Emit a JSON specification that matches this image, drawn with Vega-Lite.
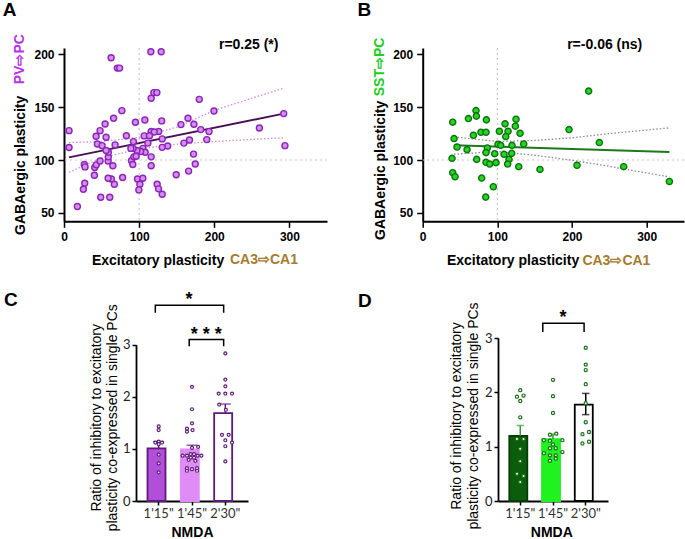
{
  "$schema": "https://vega.github.io/schema/vega-lite/v6.json",
  "padding": {"left": 2, "top": 1, "right": 0, "bottom": 0},
  "config": {
    "view": {"stroke": null},
    "font": "Liberation Sans",
    "axis": {"grid": false, "domainColor": "#000", "tickColor": "#000", "labelColor": "#000", "titleColor": "#000", "labelFont": "Liberation Sans", "titleFont": "Liberation Sans"},
    "title": {"font": "Liberation Sans", "fontSize": 19, "fontWeight": "bold", "color": "#000", "anchor": "start", "frame": "group", "baseline": "alphabetic"}
  },
  "datasets": {
    "one": [{"k": 1}],
    "pv": [
      {"x":6.7,"y":127.8},{"x":6.7,"y":111.8},{"x":17.8,"y":56},{"x":62.7,"y":196.8},{"x":71,"y":187},{"x":74,"y":187},{"x":115.6,"y":202.5},{"x":129.3,"y":202.5},{"x":116,"y":158.4},{"x":119.6,"y":163.8},{"x":123.6,"y":163.8},{"x":180,"y":157.4},{"x":199.6,"y":146.4},{"x":292.4,"y":143.9},{"x":260,"y":130.3},{"x":294,"y":113.6},{"x":77,"y":146.7},{"x":66,"y":139.5},{"x":54.7,"y":134.1},{"x":48,"y":127.8},{"x":42.7,"y":122.5},{"x":56,"y":121.5},{"x":44.4,"y":115.2},{"x":50.7,"y":113.6},{"x":68,"y":114.3},{"x":83,"y":123},{"x":95,"y":135.7},{"x":107.6,"y":137.9},{"x":130,"y":137},{"x":155.6,"y":133.5},{"x":165,"y":139.5},{"x":172.9,"y":133.8},{"x":182,"y":128.8},{"x":193,"y":126.9},{"x":190,"y":119.3},{"x":167,"y":119},{"x":159.6,"y":116},{"x":126,"y":127},{"x":116,"y":127},{"x":120,"y":126.5},{"x":106.7,"y":122.8},{"x":113.8,"y":123},{"x":130.7,"y":120},{"x":138,"y":113.3},{"x":130.7,"y":112},{"x":111.6,"y":116},{"x":105,"y":111},{"x":108,"y":107.3},{"x":102,"y":108},{"x":97,"y":109},{"x":92,"y":111},{"x":92.4,"y":117.4},{"x":89,"y":111},{"x":89.8,"y":99.4},{"x":93,"y":103},{"x":96,"y":103.5},{"x":116,"y":103},{"x":116,"y":94.6},{"x":91.6,"y":95.7},{"x":97.8,"y":82},{"x":104.9,"y":82.8},{"x":101,"y":77},{"x":99.6,"y":71.7},{"x":124,"y":77},{"x":125.8,"y":72.7},{"x":130.7,"y":67.6},{"x":78,"y":83.4},{"x":67,"y":77},{"x":63,"y":82},{"x":58.7,"y":82.8},{"x":48.9,"y":64.8},{"x":60.9,"y":64.8},{"x":40.4,"y":85.6},{"x":40.9,"y":92.9},{"x":43,"y":95.4},{"x":27,"y":95.7},{"x":28,"y":93.5},{"x":27.6,"y":78},{"x":25.8,"y":72.4},{"x":48,"y":99},{"x":58.7,"y":99},{"x":59,"y":103},{"x":59,"y":107.3},{"x":56,"y":109},{"x":65,"y":94.5},{"x":149.3,"y":86},{"x":165.8,"y":89.5},{"x":174.7,"y":96.2},{"x":172.4,"y":105.6}
    ],
    "pvfit": [
      {"b":"fit","x":6.7,"y":102.5},{"b":"fit","x":292.4,"y":143.9},
      {"b":"upper","x":6.7,"y":116.5},{"b":"upper","x":50,"y":117.5},{"b":"upper","x":100,"y":121.5},{"b":"upper","x":150,"y":131},{"b":"upper","x":200,"y":147},{"b":"upper","x":250,"y":158.5},{"b":"upper","x":292.4,"y":168},
      {"b":"lower","x":6.7,"y":88.4},{"b":"lower","x":50,"y":102},{"b":"lower","x":100,"y":110.5},{"b":"lower","x":150,"y":115},{"b":"lower","x":200,"y":117.5},{"b":"lower","x":250,"y":119.5},{"b":"lower","x":292.4,"y":121}
    ],
    "sst": [
      {"x":40.2,"y":135.8},{"x":42,"y":120.3},{"x":46,"y":112.3},{"x":39.3,"y":101.6},{"x":40.2,"y":88},{"x":43.3,"y":84.2},{"x":61.2,"y":139.2},{"x":71.4,"y":146.8},{"x":71.9,"y":141.5},{"x":67.9,"y":123.4},{"x":78,"y":126.3},{"x":84.8,"y":126.3},{"x":85.3,"y":138},{"x":59.4,"y":109.8},{"x":72.3,"y":100.6},{"x":79,"y":82.9},{"x":84.4,"y":64.9},{"x":94.6,"y":74.7},{"x":86.6,"y":111.4},{"x":84.8,"y":107},{"x":84.8,"y":97.8},{"x":89.7,"y":96.2},{"x":96.4,"y":106},{"x":98.2,"y":97.5},{"x":102.7,"y":127.2},{"x":100.9,"y":114.9},{"x":104.5,"y":113.9},{"x":110.3,"y":134.2},{"x":114.3,"y":127.2},{"x":111.2,"y":122.2},{"x":125,"y":138.6},{"x":124.1,"y":132},{"x":130.4,"y":125.3},{"x":135.3,"y":115.2},{"x":119.6,"y":113.9},{"x":108.9,"y":105.4},{"x":119.2,"y":106.3},{"x":115.6,"y":100.6},{"x":113.8,"y":96.2},{"x":128.6,"y":93.7},{"x":157.1,"y":91.1},{"x":196,"y":128.8},{"x":222.3,"y":165.2},{"x":236.6,"y":116.5},{"x":206.7,"y":95},{"x":269.2,"y":93.7},{"x":330.4,"y":79.7}
    ],
    "sstfit": [
      {"b":"fit","x":42,"y":113.9},{"b":"fit","x":330.4,"y":107.6},
      {"b":"upper","x":42,"y":121.8},{"b":"upper","x":100,"y":117.5},{"b":"upper","x":150,"y":118.5},{"b":"upper","x":200,"y":121},{"b":"upper","x":250,"y":125},{"b":"upper","x":330.4,"y":130.4},
      {"b":"lower","x":42,"y":105.5},{"b":"lower","x":100,"y":108},{"b":"lower","x":150,"y":104.5},{"b":"lower","x":200,"y":99.8},{"b":"lower","x":250,"y":94},{"b":"lower","x":330.4,"y":84}
    ],
    "cbars": [
      {"g":"1'15\"","m":1.01,"lo":1.01,"hi":1.14},
      {"g":"1'45\"","m":0.99,"lo":0.99,"hi":1.07},
      {"g":"2'30\"","m":1.685,"lo":1.685,"hi":1.86}
    ],
    "dbars": [
      {"g":"1'15\"","m":1.2,"lo":1.2,"hi":1.39},
      {"g":"1'45\"","m":1.14,"lo":1.14,"hi":1.23},
      {"g":"2'30\"","m":1.775,"lo":1.59,"hi":1.98}
    ],
    "cpts": [
      {"g":"1'15\"","v":1.43,"j":0},{"g":"1'15\"","v":1.36,"j":0},{"g":"1'15\"","v":1.12,"j":-0.3},{"g":"1'15\"","v":1.14,"j":0},{"g":"1'15\"","v":1.09,"j":0},{"g":"1'15\"","v":1.12,"j":0.3},{"g":"1'15\"","v":0.89,"j":0},{"g":"1'15\"","v":0.72,"j":0},{"g":"1'15\"","v":0.55,"j":0},
      {"g":"1'45\"","v":2.19,"j":0},{"g":"1'45\"","v":1.76,"j":0},{"g":"1'45\"","v":1.49,"j":0},{"g":"1'45\"","v":1.39,"j":-0.45},{"g":"1'45\"","v":1.33,"j":-0.45},{"g":"1'45\"","v":1.36,"j":0.05},{"g":"1'45\"","v":1.02,"j":0},{"g":"1'45\"","v":1.04,"j":0.55},
      {"g":"1'45\"","v":0.87,"j":-0.84},{"g":"1'45\"","v":0.87,"j":-0.45},{"g":"1'45\"","v":0.9,"j":-0.12},{"g":"1'45\"","v":0.83,"j":-0.12},{"g":"1'45\"","v":0.9,"j":0.18},{"g":"1'45\"","v":0.83,"j":0.18},{"g":"1'45\"","v":0.87,"j":0.5},{"g":"1'45\"","v":0.87,"j":0.84},
      {"g":"1'45\"","v":0.79,"j":-0.3},{"g":"1'45\"","v":0.77,"j":0.3},{"g":"1'45\"","v":0.63,"j":-0.45},{"g":"1'45\"","v":0.58,"j":-0.45},{"g":"1'45\"","v":0.61,"j":0},{"g":"1'45\"","v":0.63,"j":0.45},{"g":"1'45\"","v":0.58,"j":0.45},
      {"g":"2'30\"","v":2.83,"j":0},{"g":"2'30\"","v":2.33,"j":0},{"g":"2'30\"","v":2.2,"j":0},{"g":"2'30\"","v":2.06,"j":-0.6},{"g":"2'30\"","v":2.06,"j":0},{"g":"2'30\"","v":2.06,"j":0.6},{"g":"2'30\"","v":1.85,"j":-0.55},{"g":"2'30\"","v":1.75,"j":0.05},{"g":"2'30\"","v":1.27,"j":-0.3},{"g":"2'30\"","v":1.27,"j":0.3},{"g":"2'30\"","v":1.165,"j":0},{"g":"2'30\"","v":1.12,"j":0.6},{"g":"2'30\"","v":1.05,"j":0},{"g":"2'30\"","v":0.76,"j":0}
    ],
    "dpts": [
      {"g":"1'15\"","v":2.04,"j":0},{"g":"1'15\"","v":1.92,"j":-0.3},{"g":"1'15\"","v":1.94,"j":0.3},{"g":"1'15\"","v":1.84,"j":0},{"g":"1'15\"","v":1.54,"j":0},{"g":"1'15\"","v":1.14,"j":-0.3},{"g":"1'15\"","v":1.14,"j":0.3},{"g":"1'15\"","v":0.96,"j":0},{"g":"1'15\"","v":0.73,"j":0},{"g":"1'15\"","v":0.5,"j":-0.3},{"g":"1'15\"","v":0.46,"j":0.3},{"g":"1'15\"","v":0.35,"j":0},
      {"g":"1'45\"","v":2.23,"j":0},{"g":"1'45\"","v":1.93,"j":0},{"g":"1'45\"","v":1.62,"j":0},{"g":"1'45\"","v":1.22,"j":-0.28},{"g":"1'45\"","v":1.24,"j":0.3},{"g":"1'45\"","v":1.12,"j":-0.83},{"g":"1'45\"","v":1.11,"j":-0.28},{"g":"1'45\"","v":1.12,"j":0.86},{"g":"1'45\"","v":1.04,"j":0},{"g":"1'45\"","v":0.97,"j":-0.28},{"g":"1'45\"","v":0.97,"j":0.25},{"g":"1'45\"","v":0.88,"j":-0.83},{"g":"1'45\"","v":0.9,"j":0.86},{"g":"1'45\"","v":0.84,"j":-0.28},{"g":"1'45\"","v":0.84,"j":0.25},{"g":"1'45\"","v":0.78,"j":0.25},{"g":"1'45\"","v":0.74,"j":-0.28},
      {"g":"2'30\"","v":2.82,"j":0},{"g":"2'30\"","v":2.51,"j":0},{"g":"2'30\"","v":2.41,"j":0},{"g":"2'30\"","v":2.15,"j":0},{"g":"2'30\"","v":1.8,"j":0},{"g":"2'30\"","v":1.45,"j":0},{"g":"2'30\"","v":1.27,"j":0.3},{"g":"2'30\"","v":1.23,"j":-0.3},{"g":"2'30\"","v":1.09,"j":0.3},{"g":"2'30\"","v":1.06,"j":-0.3}
    ],
    "cbrk": [
      {"k":"a","g":"1'15\"","j":-0.3,"v":3.61,"o":1},{"k":"a","g":"1'15\"","j":-0.3,"v":3.756,"o":2},{"k":"a","g":"2'30\"","j":-0.15,"v":3.756,"o":3},{"k":"a","g":"2'30\"","j":-0.15,"v":3.61,"o":4},
      {"k":"b","g":"1'45\"","j":-0.25,"v":2.97,"o":1},{"k":"b","g":"1'45\"","j":-0.25,"v":3.098,"o":2},{"k":"b","g":"2'30\"","j":-0.15,"v":3.098,"o":3},{"k":"b","g":"2'30\"","j":-0.15,"v":2.97,"o":4}
    ],
    "dbrk": [
      {"k":"a","g":"1'45\"","j":-0.93,"v":3.11,"o":1},{"k":"a","g":"1'45\"","j":-0.93,"v":3.27,"o":2},{"k":"a","g":"2'30\"","j":-0.15,"v":3.27,"o":3},{"k":"a","g":"2'30\"","j":-0.15,"v":3.11,"o":4}
    ]
  },
  "vconcat": [
    {
      "hconcat": [
        {
          "width": 263, "height": 173.3,
          "title": {"text": "A", "dx": -61.3, "offset": 13.9},
          "layer": [
            {"data": {"name": "one"}, "mark": {"type": "rule", "color": "#c8c8c8", "strokeDash": [2, 3], "strokeWidth": 1.2}, "encoding": {"x": {"datum": 100}}},
            {"data": {"name": "one"}, "mark": {"type": "rule", "color": "#c8c8c8", "strokeDash": [2, 3], "strokeWidth": 1.2}, "encoding": {"y": {"datum": 100}}},
            {"data": {"name": "pvfit"}, "transform": [{"filter": "datum.b !== 'fit'"}], "mark": {"type": "line", "color": "#c98be6", "strokeDash": [1.5, 2], "strokeWidth": 1.3}, "encoding": {"x": {"field": "x", "type": "quantitative"}, "y": {"field": "y", "type": "quantitative"}, "detail": {"field": "b"}}},
            {"data": {"name": "pvfit"}, "transform": [{"filter": "datum.b === 'fit'"}], "mark": {"type": "line", "color": "#4b0f57", "strokeWidth": 2}, "encoding": {"x": {"field": "x", "type": "quantitative"}, "y": {"field": "y", "type": "quantitative"}}},
            {"data": {"name": "pv"}, "mark": {"type": "circle", "fill": "#d68cf0", "stroke": "#8a25b5", "strokeWidth": 1.4, "size": 36, "opacity": 1},
             "encoding": {
               "x": {"field": "x", "type": "quantitative", "scale": {"domain": [0, 350], "nice": false, "zero": false},
                     "axis": {"values": [0,50,100,150,200,250,300,350], "labelExpr": "datum.value % 100 === 0 ? datum.label : ''", "labelFlush": false, "labelOverlap": false, "tickSize": 6, "tickWidth": 1.5, "domainWidth": 2, "labelFontSize": 12, "labelFontWeight": "bold", "labelPadding": 4,
                              "title": "Excitatory plasticity", "titleFontSize": 14, "titleFontWeight": "bold", "titleX": 159.7, "titleY": 43, "titleAlign": "right", "titleBaseline": "alphabetic"}},
               "y": {"field": "y", "type": "quantitative", "scale": {"domain": [42, 206], "nice": false, "zero": false},
                     "axis": {"values": [50,75,100,125,150,175,200], "labelExpr": "datum.value % 50 === 0 ? datum.label : ''", "labelFlush": false, "labelOverlap": false, "tickSize": {"condition": {"test": "datum.value % 50 === 0", "value": 6}, "value": 3.5}, "tickWidth": 1.5, "domainWidth": 2, "labelFontSize": 12, "labelFontWeight": "bold", "labelPadding": 4,
                              "title": "GABAergic plasticity", "titleFontSize": 14, "titleFontWeight": "bold", "titleAngle": 270, "titleX": -40, "titleY": 186.5, "titleAlign": "left", "titleBaseline": "alphabetic"}}
             }},
            {"data": {"name": "one"}, "mark": {"type": "text", "text": "r=0.25 (*)", "fontSize": 14, "fontWeight": "bold", "align": "center", "baseline": "alphabetic", "color": "#000"}, "encoding": {"x": {"datum": 245.8}, "y": {"datum": 204.8}}},
            {"data": {"name": "one"}, "mark": {"type": "text", "text": "PV⇨PC", "fontSize": 14, "fontWeight": "bold", "angle": 270, "align": "left", "baseline": "alphabetic", "color": "#b535e5"}, "encoding": {"x": {"datum": -53.2}, "y": {"datum": 171.7}}},
            {"data": {"name": "one"}, "mark": {"type": "text", "text": "CA3⇨CA1", "fontSize": 14, "fontWeight": "bold", "align": "left", "baseline": "alphabetic", "color": "#a67c2e"}, "encoding": {"x": {"datum": 220.9}, "y": {"datum": 1.3}}}
          ]
        },
        {
          "width": 261.3, "height": 173.3,
          "title": {"text": "B", "dx": -65.3, "offset": 17.5},
          "layer": [
            {"data": {"name": "one"}, "mark": {"type": "rule", "color": "#c8c8c8", "strokeDash": [2, 3], "strokeWidth": 1.2}, "encoding": {"x": {"datum": 100}}},
            {"data": {"name": "one"}, "mark": {"type": "rule", "color": "#c8c8c8", "strokeDash": [2, 3], "strokeWidth": 1.2}, "encoding": {"y": {"datum": 100}}},
            {"data": {"name": "sstfit"}, "transform": [{"filter": "datum.b !== 'fit'"}], "mark": {"type": "line", "color": "#888888", "strokeDash": [1.5, 2], "strokeWidth": 1.3}, "encoding": {"x": {"field": "x", "type": "quantitative"}, "y": {"field": "y", "type": "quantitative"}, "detail": {"field": "b"}}},
            {"data": {"name": "sstfit"}, "transform": [{"filter": "datum.b === 'fit'"}], "mark": {"type": "line", "color": "#1a7a1a", "strokeWidth": 2}, "encoding": {"x": {"field": "x", "type": "quantitative"}, "y": {"field": "y", "type": "quantitative"}}},
            {"data": {"name": "sst"}, "mark": {"type": "circle", "fill": "#22d622", "stroke": "#0f700f", "strokeWidth": 1.4, "size": 38, "opacity": 1},
             "encoding": {
               "x": {"field": "x", "type": "quantitative", "scale": {"domain": [0, 350], "nice": false, "zero": false},
                     "axis": {"values": [0,50,100,150,200,250,300,350], "labelExpr": "datum.value % 100 === 0 ? datum.label : ''", "labelFlush": false, "labelOverlap": false, "tickSize": 6, "tickWidth": 1.5, "domainWidth": 2, "labelFontSize": 12, "labelFontWeight": "bold", "labelPadding": 4,
                              "title": "Excitatory plasticity", "titleFontSize": 14, "titleFontWeight": "bold", "titleX": 156, "titleY": 43.5, "titleAlign": "right", "titleBaseline": "alphabetic"}},
               "y": {"field": "y", "type": "quantitative", "scale": {"domain": [42, 206], "nice": false, "zero": false},
                     "axis": {"values": [50,75,100,125,150,175,200], "labelExpr": "datum.value % 50 === 0 ? datum.label : ''", "labelFlush": false, "labelOverlap": false, "tickSize": {"condition": {"test": "datum.value % 50 === 0", "value": 6}, "value": 3.5}, "tickWidth": 1.5, "domainWidth": 2, "labelFontSize": 12, "labelFontWeight": "bold", "labelPadding": 4,
                              "title": "GABAergic plasticity", "titleFontSize": 14, "titleFontWeight": "bold", "titleAngle": 270, "titleX": -38.7, "titleY": 191.5, "titleAlign": "left", "titleBaseline": "alphabetic"}}
             }},
            {"data": {"name": "one"}, "mark": {"type": "text", "text": "r=-0.06 (ns)", "fontSize": 14, "fontWeight": "bold", "align": "center", "baseline": "alphabetic", "color": "#000"}, "encoding": {"x": {"datum": 243.8}, "y": {"datum": 204.8}}},
            {"data": {"name": "one"}, "mark": {"type": "text", "text": "SST⇨PC", "fontSize": 14, "fontWeight": "bold", "angle": 270, "align": "left", "baseline": "alphabetic", "color": "#22cc22"}, "encoding": {"x": {"datum": -51.8}, "y": {"datum": 160.3}}},
            {"data": {"name": "one"}, "mark": {"type": "text", "text": "CA3⇨CA1", "fontSize": 14, "fontWeight": "bold", "align": "left", "baseline": "alphabetic", "color": "#a67c2e"}, "encoding": {"x": {"datum": 213.9}, "y": {"datum": 0.6}}}
          ]
        }
      ],
      "spacing": 95.7,
      "bounds": "flush"
    },
    {
      "hconcat": [
        {"width": 71.7, "height": 10, "data": {"values": []}, "mark": {"type": "point", "opacity": 0}, "encoding": {}},
        {
          "width": 112, "height": 163,
          "title": {"text": "C", "dx": -132, "offset": 0, "dy": 19},
          "layer": [
            {"data": {"name": "cbars"}, "mark": {"type": "bar", "strokeWidth": 1.8},
             "encoding": {
               "x": {"field": "g", "type": "nominal", "sort": null, "scale": {"domain": ["1'15\"", "1'45\"", "2'30\""], "paddingInner": 0.33, "paddingOuter": 0.345},
                     "axis": {"labelAngle": 0, "labelFont": "Lato", "labelFontSize": 13, "labelColor": "#333", "labelPadding": 2, "tickSize": 4, "tickWidth": 1.5, "domainWidth": 1.8,
                              "title": "NMDA", "titleFontSize": 14, "titleFontWeight": "bold", "titleY": 35.7, "titleBaseline": "alphabetic", "titleAlign": "center", "titleX": 56}},
               "y": {"field": "m", "type": "quantitative", "scale": {"domain": [0, 3], "nice": false, "rangeMax": 6.6},
                     "axis": {"values": [0, 1, 2, 3], "format": "d", "labelFont": "Lato", "labelFontSize": 13, "labelColor": "#222", "labelPadding": 2, "tickSize": 4, "tickWidth": 1.5, "domainWidth": 1.8,
                              "title": ["Ratio of inhibitory to excitatory", "plasticity co-expressed in single PCs"], "titleFontSize": 14, "titleFontWeight": "normal", "titleAngle": 270, "titleX": -35.8, "titleY": 79.3, "titleAlign": "center", "titleBaseline": "alphabetic", "titleLineHeight": 16.7}},
               "fill": {"field": "g", "type": "nominal", "scale": {"domain": ["1'15\"", "1'45\"", "2'30\""], "range": ["#b24fd9", "#e08cf6", "#ffffff"]}, "legend": null},
               "stroke": {"field": "g", "type": "nominal", "scale": {"domain": ["1'15\"", "1'45\"", "2'30\""], "range": ["#5e1a78", "#e08cf6", "#5e1a78"]}, "legend": null}
             }},
            {"data": {"name": "cbars"}, "mark": {"type": "rule", "strokeWidth": 1.5, "color": "#5e1a78"}, "encoding": {"x": {"field": "g", "type": "nominal"}, "y": {"field": "lo", "type": "quantitative"}, "y2": {"field": "hi"}}},
            {"data": {"name": "cbars"}, "mark": {"type": "tick", "size": 11, "thickness": 1.5, "color": "#5e1a78"}, "encoding": {"x": {"field": "g", "type": "nominal"}, "y": {"field": "hi", "type": "quantitative"}}},
            {"data": {"name": "cpts"}, "mark": {"type": "point", "shape": "circle", "filled": false, "fill": "#ffffff", "fillOpacity": 1, "stroke": "#5e1a78", "strokeWidth": 1.2, "size": 9, "opacity": 1},
             "encoding": {"x": {"field": "g", "type": "nominal"}, "xOffset": {"field": "j", "type": "quantitative", "scale": {"domain": [-1, 1]}}, "y": {"field": "v", "type": "quantitative"}}},
            {"data": {"name": "cbrk"}, "mark": {"type": "line", "color": "#000", "strokeWidth": 1.5},
             "encoding": {"x": {"field": "g", "type": "nominal"}, "xOffset": {"field": "j", "type": "quantitative"}, "y": {"field": "v", "type": "quantitative"}, "detail": {"field": "k"}, "order": {"field": "o"}}},
            {"data": {"name": "one"}, "mark": {"type": "text", "text": "*", "fontSize": 18, "fontWeight": "bold", "align": "center", "baseline": "alphabetic", "dx": -3, "color": "#000"}, "encoding": {"x": {"datum": "1'45\""}, "y": {"datum": 3.76}}},
            {"data": {"name": "one"}, "mark": {"type": "text", "text": "* * *", "fontSize": 18, "fontWeight": "bold", "align": "center", "baseline": "alphabetic", "dx": 14.3, "color": "#000"}, "encoding": {"x": {"datum": "1'45\""}, "y": {"datum": 3.094}}}
          ]
        },
        {"width": 249.7, "height": 10, "data": {"values": []}, "mark": {"type": "point", "opacity": 0}, "encoding": {}},
        {
          "width": 110, "height": 163,
          "title": {"text": "D", "dx": -140, "offset": 2, "dy": 11},
          "layer": [
            {"data": {"name": "dbars"}, "mark": {"type": "bar", "strokeWidth": 1.8},
             "encoding": {
               "x": {"field": "g", "type": "nominal", "sort": null, "scale": {"domain": ["1'15\"", "1'45\"", "2'30\""], "paddingInner": 0.33, "paddingOuter": 0.345},
                     "axis": {"labelAngle": 0, "labelFont": "Lato", "labelFontSize": 13, "labelColor": "#333", "labelPadding": 2, "tickSize": 4, "tickWidth": 1.5, "domainWidth": 1.8,
                              "title": "NMDA", "titleFontSize": 14, "titleFontWeight": "bold", "titleY": 35.3, "titleBaseline": "alphabetic", "titleAlign": "center", "titleX": 53.3}},
               "y": {"field": "m", "type": "quantitative", "scale": {"domain": [0, 3], "nice": false},
                     "axis": {"values": [0, 1, 2, 3], "format": "d", "labelFont": "Lato", "labelFontSize": 13, "labelColor": "#222", "labelPadding": 2, "tickSize": 4, "tickWidth": 1.5, "domainWidth": 1.8,
                              "title": ["Ratio of inhibitory to excitatory", "plasticity co-expressed in single PCs"], "titleFontSize": 14, "titleFontWeight": "normal", "titleAngle": 270, "titleX": -37.5, "titleY": 77.5, "titleAlign": "center", "titleBaseline": "alphabetic", "titleLineHeight": 16.7}},
               "fill": {"field": "g", "type": "nominal", "scale": {"domain": ["1'15\"", "1'45\"", "2'30\""], "range": ["#0b5c0b", "#1ff21f", "#ffffff"]}, "legend": null},
               "stroke": {"field": "g", "type": "nominal", "scale": {"domain": ["1'15\"", "1'45\"", "2'30\""], "range": ["#063d06", "#1ff21f", "#000000"]}, "legend": null}
             }},
            {"data": {"name": "dbars"}, "mark": {"type": "rule", "strokeWidth": 1.5}, "encoding": {"x": {"field": "g", "type": "nominal"}, "y": {"field": "lo", "type": "quantitative"}, "y2": {"field": "hi"}, "color": {"field": "g", "type": "nominal", "scale": {"domain": ["1'15\"", "1'45\"", "2'30\""], "range": ["#3a9a3a", "#1aa01a", "#000000"]}, "legend": null}}},
            {"data": {"name": "dbars"}, "mark": {"type": "tick", "size": 7.5, "thickness": 1.5}, "encoding": {"x": {"field": "g", "type": "nominal"}, "y": {"field": "hi", "type": "quantitative"}, "color": {"field": "g", "type": "nominal", "legend": null}}},
            {"data": {"name": "dbars"}, "transform": [{"filter": "datum.lo < datum.m"}], "mark": {"type": "tick", "size": 7.5, "thickness": 1.5}, "encoding": {"x": {"field": "g", "type": "nominal"}, "y": {"field": "lo", "type": "quantitative"}, "color": {"field": "g", "type": "nominal", "legend": null}}},
            {"data": {"name": "dpts"}, "mark": {"type": "point", "shape": "circle", "filled": false, "fill": "#ffffff", "fillOpacity": 1, "stroke": "#187018", "strokeWidth": 1.2, "size": 10, "opacity": 1},
             "encoding": {"x": {"field": "g", "type": "nominal"}, "xOffset": {"field": "j", "type": "quantitative", "scale": {"domain": [-1, 1]}}, "y": {"field": "v", "type": "quantitative"}}},
            {"data": {"name": "dbrk"}, "mark": {"type": "line", "color": "#000", "strokeWidth": 1.5},
             "encoding": {"x": {"field": "g", "type": "nominal"}, "xOffset": {"field": "j", "type": "quantitative"}, "y": {"field": "v", "type": "quantitative"}, "detail": {"field": "k"}, "order": {"field": "o"}}},
            {"data": {"name": "one"}, "mark": {"type": "text", "text": "*", "fontSize": 18, "fontWeight": "bold", "align": "center", "baseline": "alphabetic", "dx": 10, "color": "#000"}, "encoding": {"x": {"datum": "1'45\""}, "y": {"datum": 3.27}}}
          ]
        }
      ],
      "spacing": 0,
      "bounds": "flush",
      "resolve": {"scale": {"fill": "independent", "stroke": "independent", "color": "independent", "xOffset": "independent"}}
    }
  ],
  "spacing": 290,
  "bounds": "flush"
}
